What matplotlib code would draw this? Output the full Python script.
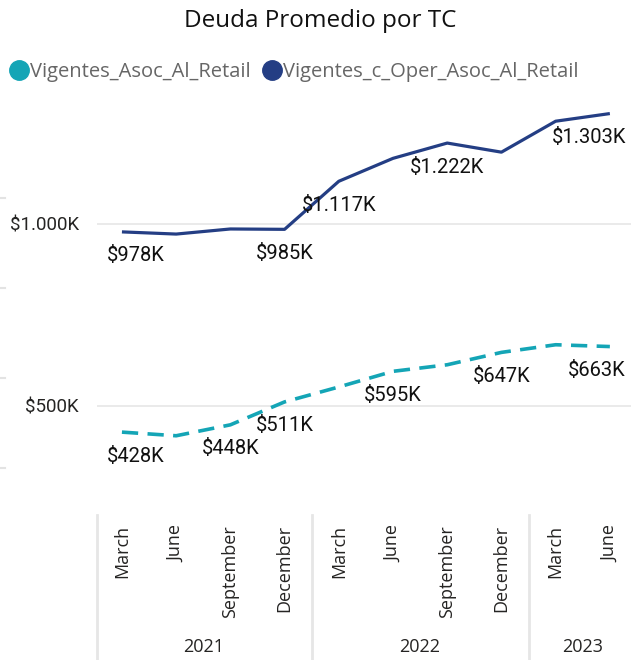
import matplotlib
matplotlib.use("Agg")
import matplotlib.pyplot as plt
from matplotlib.lines import Line2D
import matplotlib.transforms as mtransforms

# ---- data ----
months = ["March", "June", "September", "December",
          "March", "June", "September", "December",
          "March", "June"]
years = ["2021", "2022", "2023"]
year_counts = [4, 4, 2]
asoc_retail = [428, 418, 448, 511, 552, 595, 613, 647, 668, 663]          # K$
oper_asoc_retail = [978, 972, 986, 985, 1117, 1180, 1222, 1197, 1282, 1303]  # K$
asoc_labelled = [0, 2, 3, 5, 7, 9]
oper_labelled = [0, 3, 4, 6, 9]
series_names = ["Vigentes_Asoc_Al_Retail", "Vigentes_c_Oper_Asoc_Al_Retail"]
yticks = [500, 1000]

TEAL = "#14A5B6"
NAVY = "#243E84"
GRID = "#E6E6E6"
W, H = 631, 660

plt.rcParams["font.family"] = ["Open Sans", "DejaVu Sans"]
fig = plt.figure(figsize=(W / 100, H / 100), dpi=100)

ax_l, ax_r, ax_t, ax_b = 97, 631, 95, 490
ax = fig.add_axes([ax_l / W, 1 - ax_b / H, (ax_r - ax_l) / W, (ax_b - ax_t) / H])
x = list(range(len(months)))
ax.set_xlim(-0.46, 9.39)
ax.set_ylim(269, 1354)

ax.plot(x, oper_asoc_retail, color=NAVY, lw=2.3, solid_capstyle="butt", zorder=3)
ax.plot(x, asoc_retail, color=TEAL, lw=2.6, dashes=(4.5, 2.6), zorder=3)

for s in ax.spines.values():
    s.set_visible(False)
ax.set_xticks([])
ax.set_yticks(yticks)
ax.set_yticklabels([f"${v:,.0f}K".replace(",", ".") for v in yticks],
                   fontsize=13.5, color="#252423", family=["Roboto", "DejaVu Sans"])
ax.tick_params(axis="y", length=0, pad=13)
ax.grid(axis="y", color=GRID, lw=1.2, zorder=0)


def fmt(v):
    return f"${v:,.0f}K".replace(",", ".")


labels = []
for idx in oper_labelled:
    t = ax.annotate(fmt(oper_asoc_retail[idx]), (idx, oper_asoc_retail[idx]),
                    xytext=(0, -24), textcoords="offset pixels", ha="center", va="center",
                    fontsize=14.5, color="#111111", family=["Roboto", "DejaVu Sans"], zorder=4)
    labels.append(t)
for idx in asoc_labelled:
    t = ax.annotate(fmt(asoc_retail[idx]), (idx, asoc_retail[idx]),
                    xytext=(0, -24), textcoords="offset pixels", ha="center", va="center",
                    fontsize=14.5, color="#111111", family=["Roboto", "DejaVu Sans"], zorder=4)
    labels.append(t)

# month labels
trans = mtransforms.blended_transform_factory(ax.transData, fig.transFigure)
for i, m in enumerate(months):
    ax.text(i, 1 - 525 / H, m, rotation=90, ha="center", va="top", fontsize=13,
            color="#252423", transform=trans)

# year labels and separators
start = 0
bounds = [-0.46]
for yr, c in zip(years, year_counts):
    mid = start + (c - 1) / 2
    ax.text(mid, 1 - 647 / H, yr, ha="center", va="center", fontsize=13,
            color="#252423", transform=trans)
    start += c
    bounds.append(start - 0.5)
for b in bounds[:-1]:
    ax.add_line(Line2D([b, b], [1 - 515 / H, 0], transform=trans, color=GRID,
                       lw=2, clip_on=False))

# faint left-edge stubs
for yp in [198, 288, 378, 468]:
    fig.add_artist(Line2D([0, 5 / W], [1 - yp / H, 1 - yp / H], color="#E3E3E3", lw=1.5))

# title
fig.text(320 / W, 1 - 21 / H, "Deuda Promedio por TC", ha="center", va="center",
         fontsize=17.5, color="#111111")

# legend
handles = [Line2D([], [], marker="o", ls="none", markersize=14, color=TEAL),
           Line2D([], [], marker="o", ls="none", markersize=14, color=NAVY)]
leg = fig.legend(handles, series_names, loc="center left", bbox_to_anchor=(0.008, 1 - 72 / H),
                 ncol=2, frameon=False, fontsize=14.5, handletextpad=-0.05, columnspacing=0.45,
                 handlelength=1.2, borderaxespad=0, borderpad=0.1)
for t in leg.get_texts():
    t.set_color("#666666")

# keep data labels inside the plot area horizontally
fig.canvas.draw()
r = fig.canvas.get_renderer()
left_lim = ax_l + 10
right_lim = W - 5
for t in labels:
    bb = t.get_window_extent(r)
    dx = 0
    if bb.x0 < left_lim:
        dx = left_lim - bb.x0
    elif bb.x1 > right_lim:
        dx = right_lim - bb.x1
    if dx:
        ox, oy = t.xyann
        t.xyann = (ox + dx, oy)

fig.savefig("out.png", dpi=100)
